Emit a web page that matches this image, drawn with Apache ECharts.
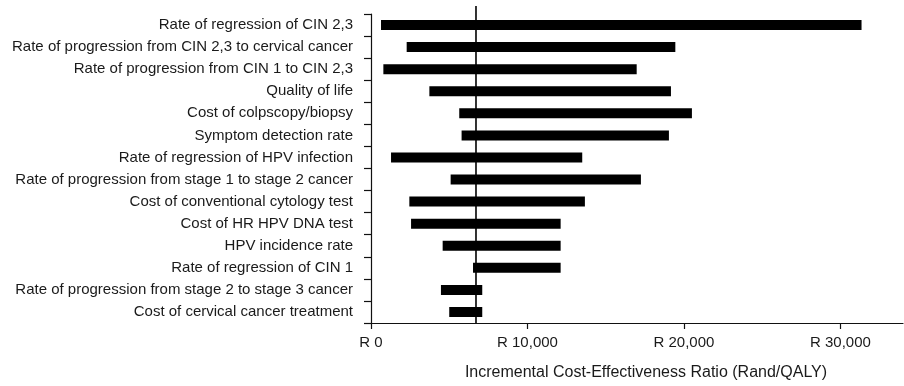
<!DOCTYPE html>
<html>
<head>
<meta charset="utf-8">
<script src="https://cdn.jsdelivr.net/npm/echarts@6/dist/echarts.min.js"></script>
<style>
  html, body { margin: 0; padding: 0; background: #fff; }
  #chart { width: 904px; height: 386px; }
</style>
</head>
<body>
<div id="chart"></div>
<script>
// One-way sensitivity analysis: range of ICER for each model parameter
const parameters = [
  'Rate of regression of CIN 2,3',
  'Rate of progression from CIN 2,3 to cervical cancer',
  'Rate of progression from CIN 1 to CIN 2,3',
  'Quality of life',
  'Cost of colpscopy/biopsy',
  'Symptom detection rate',
  'Rate of regression of HPV infection',
  'Rate of progression from stage 1 to stage 2 cancer',
  'Cost of conventional cytology test',
  'Cost of HR HPV DNA test',
  'HPV incidence rate',
  'Rate of regression of CIN 1',
  'Rate of progression from stage 2 to stage 3 cancer',
  'Cost of cervical cancer treatment'
];
const lowICER  = [640, 2280, 790, 3730, 5640, 5790, 1280, 5090, 2450, 2560, 4580, 6520, 4470, 5000];
const highICER = [31350, 19450, 16980, 19170, 20510, 19040, 13500, 17250, 13670, 12120, 12120, 12120, 7110, 7110];
const baseICER = 6710;
const xTicks = [0, 10000, 20000, 30000];
const xMax = 34000;

const fmtRand = v => 'R ' + v.toLocaleString('en-US');
const textColor = '#1a1a1a';
const font = 'Liberation Sans, Arial, Helvetica, sans-serif';

const chart = echarts.init(document.getElementById('chart'));
chart.setOption({
  animation: false,
  backgroundColor: '#fff',
  grid: [
    { left: 371, right: 1, top: 14, bottom: 63, containLabel: false },
    { left: 371, right: 1, top: 6, bottom: 63, containLabel: false }
  ],
  xAxis: [
    {
      type: 'value', gridIndex: 0, min: 0, max: xMax,
      name: 'Incremental Cost-Effectiveness Ratio (Rand/QALY)',
      nameLocation: 'middle', nameGap: 42,
      nameTextStyle: { fontFamily: font, fontSize: 16, color: textColor, padding: [0, 0, 0, 18] },
      axisLine: { show: true, lineStyle: { color: '#111', width: 1.2 } },
      axisTick: { show: true, length: 6, customValues: xTicks, lineStyle: { color: '#111', width: 1.2 } },
      axisLabel: { customValues: xTicks, formatter: fmtRand, margin: 12,
                   fontFamily: font, fontSize: 15, color: textColor },
      splitLine: { show: false }
    },
    {
      type: 'value', gridIndex: 1, min: 0, max: xMax, show: false
    }
  ],
  yAxis: [
    {
      type: 'category', gridIndex: 0, data: parameters, inverse: true,
      axisLine: { show: true, lineStyle: { color: '#111', width: 1.2 } },
      axisTick: { show: true, length: 7, lineStyle: { color: '#111', width: 1.2 } },
      axisLabel: { margin: 18, fontFamily: font, fontSize: 15, color: textColor },
      splitLine: { show: false }
    },
    {
      type: 'value', gridIndex: 1, min: 0, max: 1, show: false
    }
  ],
  series: [
    {
      type: 'bar', stack: 'range', xAxisIndex: 0, yAxisIndex: 0,
      data: lowICER,
      itemStyle: { color: 'transparent' },
      barWidth: 10, silent: true
    },
    {
      type: 'bar', stack: 'range', xAxisIndex: 0, yAxisIndex: 0,
      data: highICER.map((h, i) => h - lowICER[i]),
      itemStyle: { color: '#000' },
      barWidth: 10
    },
    {
      // base-case ICER reference line
      type: 'line', xAxisIndex: 1, yAxisIndex: 1,
      data: [[baseICER, 0], [baseICER, 1]],
      symbol: 'none',
      lineStyle: { color: '#000', width: 1.6 },
      z: 5
    }
  ]
});
</script>
</body>
</html>
